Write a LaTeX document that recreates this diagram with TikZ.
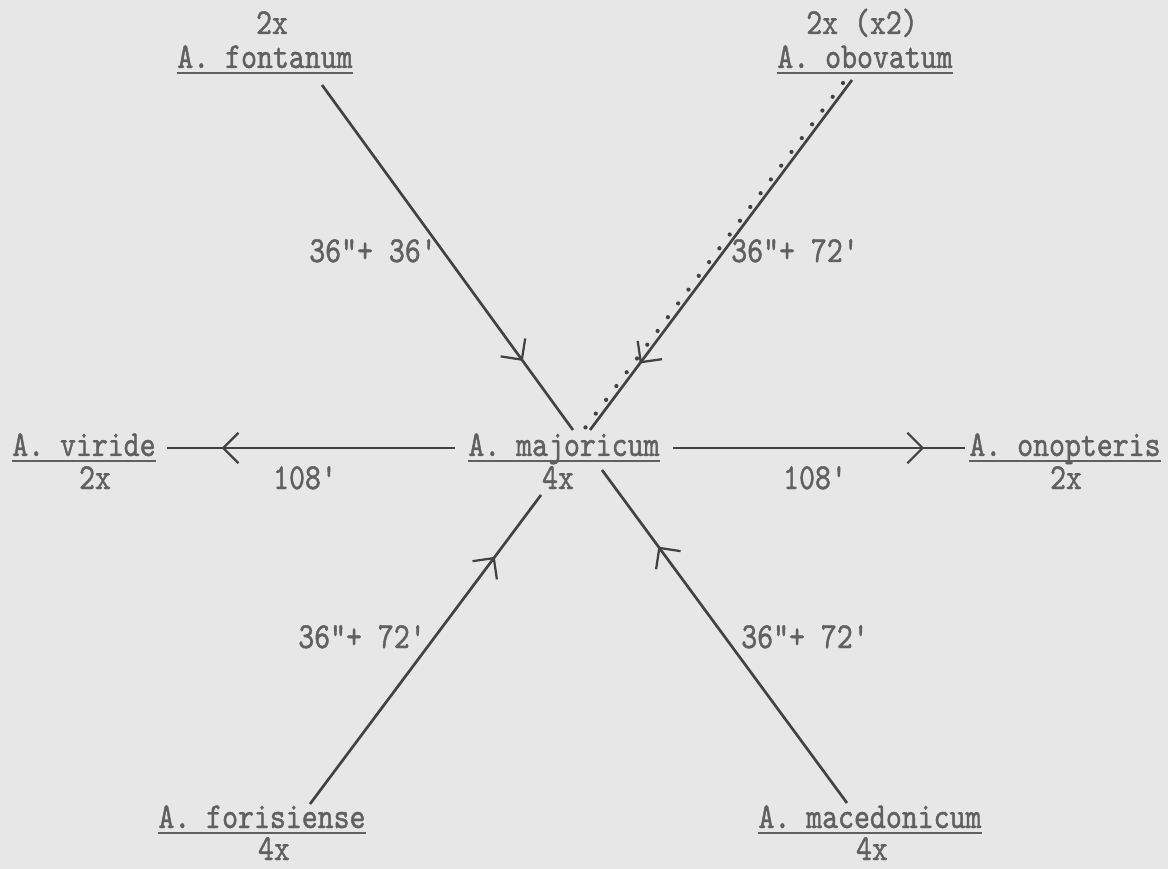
\documentclass[tikz,border=0pt]{standalone}
\usepackage{fontspec}
\usepackage{tikz}
\usetikzlibrary{arrows.meta,decorations.markings}
\newfontfamily\typew{lmmono10-regular.otf}[FakeStretch=0.83,FakeBold=1.2]
\definecolor{paper}{RGB}{231,231,231}
\definecolor{ink}{RGB}{96,96,96}
\definecolor{wire}{RGB}{66,66,66}

\begin{document}
\begin{tikzpicture}[
  x=0.25mm, y=-0.25mm,
  font=\fontsize{26}{30}\typew,
  taxon/.style={text=ink, inner sep=0pt, anchor=base},
  ploidy/.style={text=ink, inner sep=0pt, anchor=base},
  cross/.style={text=ink, inner sep=0pt, anchor=base},
  uline/.style={draw=ink, line width=1.7pt},
  link/.style={draw=wire, line width=1.9pt},
  midtip/.style={postaction={decorate}, decoration={markings,
    mark=at position #1 with {\arrow{Straight Barb[length=3.8mm,width=7.6mm,line width=1.6pt]}}}},
  hint/.style={draw=wire, line width=3pt, line cap=round, dash pattern=on 0pt off 4.3mm}
]
\fill[paper] (0,0) rectangle (1168,869);
\useasboundingbox (0,0) rectangle (1168,869);

% centre
\node[taxon] (maj) at (564,456) {A. majoricum};
\node[ploidy] (maj4x) at (558,489) {4x};

% top row
\node[taxon] (fon) at (265,68) {A. fontanum};
\node[ploidy] (fon2x) at (272,34) {2x};
\node[taxon] (obo) at (865,68) {A. obovatum};
\node[ploidy] (obo2x) at (862,34) {2x (x2)};

% sides
\node[taxon] (vir) at (84,456) {A. viride};
\node[ploidy] (vir2x) at (95,489) {2x};
\node[taxon] (ono) at (1065,456) {A. onopteris};
\node[ploidy] (ono2x) at (1066,489) {2x};

% bottom row
\node[taxon] (for) at (262,828) {A. forisiense};
\node[ploidy] (for4x) at (274,860) {4x};
\node[taxon] (mac) at (870,828) {A. macedonicum};
\node[ploidy] (mac4x) at (872,860) {4x};

\foreach \t in {maj,fon,obo,vir,ono,for,mac}
  \draw[uline] ([yshift=-1.3mm]\t.base west) -- ([yshift=-1.3mm]\t.base east);

% connectors
\draw[link, midtip=0.8] ([shift={(57,17)}]fon.base) -- ([shift={(9,-26)}]maj.base);
\draw[link, midtip=0.81] ([shift={(-13,12)}]obo.base) -- ([shift={(26,-26)}]maj.base);
\draw[hint] ([shift={(-22,15)}]obo.base) -- ([shift={(21,-28)}]maj.base);
\draw[link, midtip=0.81] ([shift={(-13,-8)}]maj.base west) -- ([shift={(11,-8)}]vir.base east);
\draw[link, midtip=0.86] ([shift={(13,-8)}]maj.base east) -- ([shift={(-4,-8)}]ono.base west);
\draw[link, midtip=0.8] ([shift={(48,-24)}]for.base) -- ([shift={(-23,39)}]maj.base);
\draw[link, midtip=0.77] ([shift={(-23,-25)}]mac.base) -- ([shift={(38,14)}]maj.base);

% crossing labels
\node[cross] (nw) at (373,262) {36"+ 36'};
\node[cross] (ne) at (795,262) {36"+ 72'};
\node[cross] (w) at (305,489) {108'};
\node[cross] (e) at (815,489) {108'};
\node[cross] (sw) at (362,648) {36"+ 72'};
\node[cross] (se) at (805,648) {36"+ 72'};

\end{tikzpicture}
\end{document}
